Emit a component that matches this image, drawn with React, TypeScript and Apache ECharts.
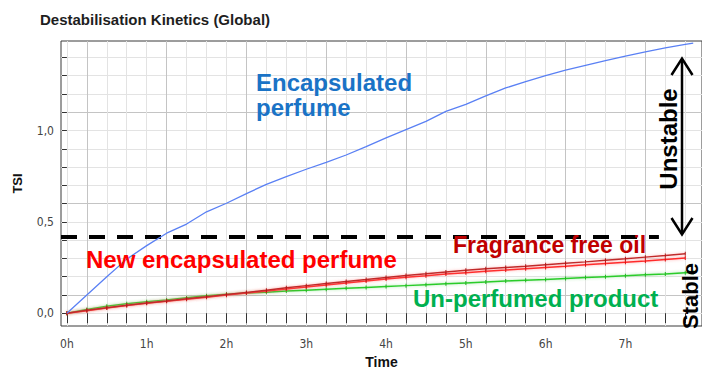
import React, { useEffect, useRef } from "react";
import * as echarts from "echarts";

const hours = [0, 0.25, 0.5, 0.75, 1, 1.25, 1.5, 1.75, 2, 2.25, 2.5, 2.75, 3, 3.25, 3.5, 3.75, 4, 4.25, 4.5, 4.75, 5, 5.25, 5.5, 5.75, 6, 6.25, 6.5, 6.75, 7, 7.25, 7.5, 7.75, 7.85];
const encapsulatedPerfume = [0, 0.1, 0.2, 0.296, 0.37, 0.438, 0.488, 0.555, 0.602, 0.655, 0.705, 0.748, 0.788, 0.826, 0.866, 0.912, 0.96, 1.005, 1.05, 1.105, 1.143, 1.19, 1.233, 1.268, 1.3, 1.33, 1.356, 1.382, 1.407, 1.43, 1.452, 1.471, 1.478];
const fragranceFreeOil = [0, 0.016, 0.03, 0.044, 0.056, 0.067, 0.079, 0.09, 0.102, 0.114, 0.126, 0.139, 0.151, 0.162, 0.173, 0.184, 0.196, 0.207, 0.216, 0.226, 0.235, 0.243, 0.25, 0.257, 0.265, 0.273, 0.281, 0.29, 0.298, 0.307, 0.316, 0.326, null];
const newEncapsulatedPerfume = [0, 0.014, 0.028, 0.042, 0.054, 0.065, 0.077, 0.088, 0.099, 0.11, 0.121, 0.133, 0.144, 0.155, 0.166, 0.176, 0.187, 0.197, 0.205, 0.214, 0.222, 0.23, 0.236, 0.243, 0.25, 0.257, 0.265, 0.272, 0.279, 0.286, 0.294, 0.302, null];
const unPerfumedProduct = [0, 0.02, 0.038, 0.052, 0.063, 0.073, 0.085, 0.095, 0.104, 0.11, 0.115, 0.121, 0.126, 0.131, 0.136, 0.141, 0.146, 0.151, 0.156, 0.161, 0.166, 0.171, 0.176, 0.181, 0.185, 0.19, 0.195, 0.2, 0.205, 0.21, 0.215, 0.221, 0.223];

const xTickValues = [0, 0.25, 0.5, 0.75, 1, 1.25, 1.5, 1.75, 2, 2.25, 2.5, 2.75, 3, 3.25, 3.5, 3.75, 4, 4.25, 4.5, 4.75, 5, 5.25, 5.5, 5.75, 6, 6.25, 6.5, 6.75, 7, 7.25, 7.5, 7.75];
const xLabelValues = [0, 1, 2, 3, 4, 5, 6, 7];
const yTickValues = [0, 0.1, 0.2, 0.3, 0.4, 0.5, 0.6, 0.7, 0.8, 0.9, 1.0, 1.1, 1.2, 1.3, 1.4];
const yLabelValues = [0, 0.5, 1.0];
const stabilityThreshold = 0.42;
const thresholdEndHour = 7.42;

const X_MIN = -0.074;
const X_MAX = 7.96;
const Y_MIN = -0.07;
const Y_MAX = 1.49;

const FONT = "'Liberation Sans', Arial, sans-serif";
const NARROW = "'Liberation Sans Narrow', 'DejaVu Sans Condensed', 'Liberation Sans', sans-serif";

function pairs(vals: (number | null)[]) {
  return hours.map((h, i) => [h, vals[i]]);
}

export default function App() {
  const ref = useRef<HTMLDivElement>(null);
  useEffect(() => {
    document.body.style.margin = "0";
    if (!ref.current) return;
    const chart = echarts.init(ref.current, undefined, { renderer: "svg" });
    const light = "#e3e3e3";
    const dark = "#c4c4c4";
    const lineCommon = { type: "line", showSymbol: true, symbol: "rect", symbolSize: [1, 4], connectNulls: false };
    chart.setOption({
      animation: false,
      grid: { left: 61, top: 41, right: -8, bottom: 48, show: true, borderColor: "#3a3a3a", borderWidth: 1, backgroundColor: "#fff" },
      xAxis: {
        type: "value",
        min: X_MIN,
        max: X_MAX,
        interval: 0.25,
        name: "Time",
        nameLocation: "middle",
        nameGap: 29,
        nameTextStyle: { fontFamily: FONT, fontWeight: "bold", fontSize: 14, color: "#111" },
        axisLine: { show: false },
        axisTick: { show: true, length: 10, customValues: xTickValues, lineStyle: { color: "#333" } },
        axisLabel: {
          customValues: xLabelValues,
          formatter: (v: number) => (Math.abs(v - Math.round(v)) < 1e-6 ? Math.round(v) + "h" : ""),
          fontFamily: NARROW,
          fontSize: 12,
          color: "#444",
          margin: 12,
        },
        splitLine: { show: true, lineStyle: { color: [light, dark, light, light], width: 1 } },
      },
      yAxis: {
        type: "value",
        min: Y_MIN,
        max: Y_MAX,
        interval: 0.1,
        name: "TSI",
        nameLocation: "middle",
        nameGap: 37,
        nameRotate: 90,
        nameTextStyle: { fontFamily: FONT, fontWeight: "bold", fontSize: 13, color: "#111" },
        axisLine: { show: false },
        axisTick: { show: true, length: 5, customValues: yTickValues, lineStyle: { color: "#333" } },
        axisLabel: {
          customValues: yLabelValues,
          formatter: (v: number) => v.toFixed(1).replace(".", ","),
          fontFamily: NARROW,
          fontSize: 12,
          color: "#444",
          margin: 7,
        },
        splitLine: { show: true, lineStyle: { color: [light, dark, light, light, light], width: 1 } },
      },
      series: [
        {
          ...lineCommon,
          name: "Un-perfumed product",
          data: pairs(unPerfumedProduct),
          itemStyle: { color: "#22b822" },
          lineStyle: { color: "#2ccc2c", width: 1.5, shadowColor: "rgba(60,200,60,0.45)", shadowBlur: 3 },
          z: 3,
        },
        {
          ...lineCommon,
          name: "New encapsulated perfume",
          data: pairs(newEncapsulatedPerfume),
          itemStyle: { color: "#e01010" },
          lineStyle: { color: "#ff2a2a", width: 1.5, shadowColor: "rgba(255,80,80,0.5)", shadowBlur: 3 },
          z: 4,
        },
        {
          ...lineCommon,
          name: "Fragrance free oil",
          data: pairs(fragranceFreeOil),
          itemStyle: { color: "#b01818" },
          lineStyle: { color: "#c02a2a", width: 1.5, shadowColor: "rgba(255,120,120,0.5)", shadowBlur: 3 },
          z: 5,
        },
        {
          type: "line",
          name: "Encapsulated perfume",
          data: pairs(encapsulatedPerfume),
          showSymbol: false,
          lineStyle: { color: "#5a80f4", width: 1.3 },
          z: 6,
          markLine: {
            silent: true,
            symbol: "none",
            label: { show: false },
            lineStyle: { color: "#000", width: 4, type: [16, 12] },
            data: [[{ coord: [X_MIN, stabilityThreshold] }, { coord: [thresholdEndHour, stabilityThreshold] }]],
          },
        },
      ],
      graphic: [
        { type: "text", left: 40, top: 12, style: { text: "Destabilisation Kinetics (Global)", font: `bold 15px ${FONT}`, fill: "#1e1e1e" } },
        { type: "text", x: 256, y: 82, style: { text: "Encapsulated", font: `bold 24px ${FONT}`, fill: "#1a73c6", verticalAlign: "middle", align: "left" }, z: 20 },
        { type: "text", x: 256, y: 107, style: { text: "perfume", font: `bold 24px ${FONT}`, fill: "#1a73c6", verticalAlign: "middle", align: "left" }, z: 20 },
        { type: "text", x: 86, y: 259, style: { text: "New encapsulated perfume", font: `bold 24px ${FONT}`, fill: "#ff0000", verticalAlign: "middle", align: "left" }, z: 20 },
        { type: "text", x: 453, y: 245, style: { text: "Fragrance free oil", font: `bold 23px ${FONT}`, fill: "#c00000", verticalAlign: "middle", align: "left" }, z: 20 },
        { type: "text", x: 413, y: 298, style: { text: "Un-perfumed product", font: `bold 24px ${FONT}`, fill: "#00b050", verticalAlign: "middle", align: "left" }, z: 20 },
        { type: "text", x: 668, y: 139, rotation: Math.PI / 2, style: { text: "Unstable", font: `bold 24px ${FONT}`, fill: "#000", verticalAlign: "middle", align: "center" }, z: 20 },
        { type: "text", x: 690, y: 296, rotation: Math.PI / 2, style: { text: "Stable", font: `bold 22px ${FONT}`, fill: "#000", verticalAlign: "middle", align: "center" }, z: 20 },
        { type: "line", shape: { x1: 682, y1: 59, x2: 682, y2: 234 }, style: { stroke: "#000", lineWidth: 2.5 }, z: 20 },
        { type: "polyline", shape: { points: [[671.5, 75], [682, 58.5], [692.5, 75]] }, style: { stroke: "#000", lineWidth: 2.5, fill: "none" }, z: 20 },
        { type: "polyline", shape: { points: [[671.5, 218], [682, 234.5], [692.5, 218]] }, style: { stroke: "#000", lineWidth: 2.5, fill: "none" }, z: 20 },
      ],
    });
    return () => chart.dispose();
  }, []);
  return <div ref={ref} style={{ width: 702, height: 374 }} />;
}
